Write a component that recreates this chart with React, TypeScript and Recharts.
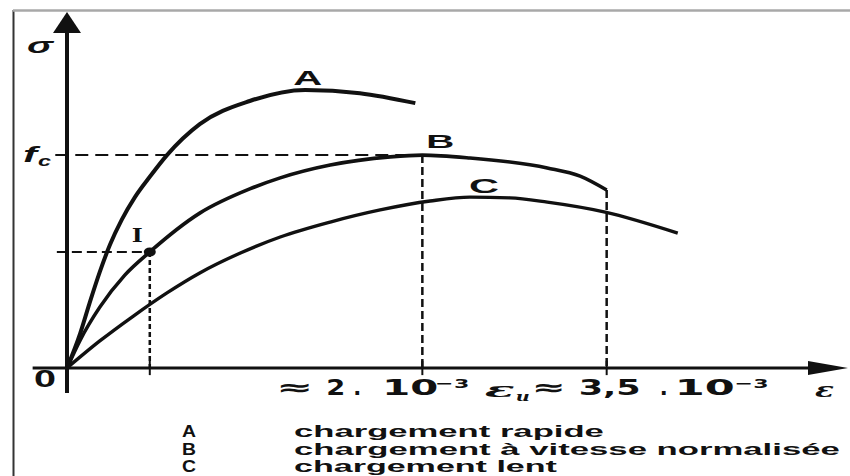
import React, { useLayoutEffect, useRef, useState } from "react";
import { ComposedChart, Line, XAxis, YAxis, ReferenceLine, ReferenceDot } from "recharts";

// schematic units: strain 0–100 along the arrow, stress 0–100 up to the arrow tip
const EPS_A = [0, 1.7, 2.9, 4.2, 5.5, 7.0, 8.7, 10.6, 12.8, 17.0, 23.4, 30.5, 37.5, 44.6];
const SIG_A = [0, 9.8, 18.3, 27.0, 34.6, 41.6, 48.0, 53.7, 59.8, 68.5, 75.0, 78.1, 77.2, 74.4];
const EPS_B = [0, 1.7, 4.2, 7.4, 10.6, 17.0, 23.4, 27.3, 33.7, 41.4, 45.5, 51.6, 61.5, 65.7, 69.1];
const SIG_B = [0, 7.9, 17.1, 26.1, 32.6, 43.5, 50.3, 53.4, 57.0, 59.3, 59.8, 59.0, 56.2, 53.9, 50.0];
const EPS_C = [0, 4.2, 8.5, 12.8, 17.0, 22.2, 27.3, 33.7, 40.1, 46.5, 51.6, 56.7, 61.5, 68.9, 78.2];
const SIG_C = [0, 7.6, 14.6, 21.1, 26.7, 32.3, 36.8, 41.0, 44.4, 46.9, 48.0, 47.8, 46.6, 43.8, 37.9];

const FC = 59.8; // f_c, peak of B
const EPS_PEAK = 45.5; // ≈ 2.10^-3
const EPS_U = 69.1; // ε_u ≈ 3,5.10^-3
const SIG_U = 50.0;
const I_EPS = 10.6;
const I_SIG = 32.6;

const CURVE_KEYS = ["A", "B", "C"];
const CURVE_LABELS = [
  "chargement rapide",
  "chargement à vitesse normalisée",
  "chargement lent",
];
const LEGEND_WIDTHS = [310, 546, 263];
const TICK_PEAK = ["≈", "2", ".", "10", "−3"];
const TICK_U = ["ε", "u", "≈", "3,5", ".", "10", "−3"];

const SANS = "'Liberation Sans', Arial, sans-serif";
const HEAVY = "'DejaVu Sans', sans-serif";
const SERIF = "'DejaVu Serif', serif";
const INK = "#111";

const toPts = (eps: number[], sig: number[]) => eps.map((x, i) => ({ x, y: sig[i] }));
const peakOf = (eps: number[], sig: number[]) => {
  const i = sig.indexOf(Math.max(...sig));
  return { x: eps[i], y: sig[i] };
};

// the scan is stretched sideways, so text is measured and scaled to its width
function WideText({ x, y, w, size, font, italic, children }: any) {
  const ref = useRef<SVGTextElement>(null);
  const [k, setK] = useState(1);
  useLayoutEffect(() => {
    const n = ref.current ? ref.current.getComputedTextLength() : 0;
    if (n > 0) setK(w / n);
  }, [w, children, size, font]);
  return (
    <text
      ref={ref}
      transform={`translate(${x},${y}) scale(${k},1)`}
      fontSize={size}
      fontFamily={font ?? SANS}
      fontStyle={italic ? "italic" : "normal"}
      fontWeight="bold"
      fill={INK}
    >
      {children}
    </text>
  );
}

type Piece = {
  t: string;
  dx: number;
  w: number;
  dy: number;
  size: number;
  font?: string;
  italic?: boolean;
};

// draws text pieces around the anchor point given by the ReferenceDot
const pieces = (list: Piece[]) => (p: any) => (
  <g>
    {list.map((s, i) => (
      <WideText key={i} x={p.cx + s.dx} y={p.cy + s.dy} w={s.w} size={s.size} font={s.font} italic={s.italic}>
        {s.t}
      </WideText>
    ))}
  </g>
);

const seg = (w: number) => ({ stroke: INK, strokeWidth: w, ifOverflow: "visible" as const });

export default function App() {
  const a = toPts(EPS_A, SIG_A);
  const b = toPts(EPS_B, SIG_B);
  const c = toPts(EPS_C, SIG_C);
  const aPeak = peakOf(EPS_A, SIG_A);
  const cPeak = peakOf(EPS_C, SIG_C);

  const tickPeak: Piece[] = [
    { t: TICK_PEAK[0], dx: -146, w: 37, dy: 27, size: 22, font: HEAVY },
    { t: TICK_PEAK[1], dx: -96, w: 19, dy: 27, size: 21, font: HEAVY },
    { t: TICK_PEAK[2], dx: -69, w: 8, dy: 27, size: 21, font: HEAVY },
    { t: TICK_PEAK[3], dx: -40, w: 56, dy: 27, size: 21, font: HEAVY },
    { t: TICK_PEAK[4], dx: 13, w: 34, dy: 20, size: 13, font: HEAVY },
  ];
  const tickU: Piece[] = [
    { t: TICK_U[0], dx: -122, w: 30, dy: 29, size: 20, font: SERIF, italic: true },
    { t: TICK_U[1], dx: -91, w: 14, dy: 33, size: 13, font: SERIF, italic: true },
    { t: TICK_U[2], dx: -75, w: 34, dy: 27, size: 22, font: HEAVY },
    { t: TICK_U[3], dx: -28, w: 62, dy: 27, size: 21, font: HEAVY },
    { t: TICK_U[4], dx: 53, w: 8, dy: 27, size: 21, font: HEAVY },
    { t: TICK_U[5], dx: 68, w: 60, dy: 27, size: 21, font: HEAVY },
    { t: TICK_U[6], dx: 128, w: 34, dy: 20, size: 13, font: HEAVY },
  ];

  return (
    <div style={{ position: "absolute", left: 0, top: 0, width: 850, height: 476, background: "#fff" }}>
      <svg width={850} height={476} style={{ position: "absolute", left: 0, top: 0 }}>
        <line x1={13.5} y1={10} x2={13.5} y2={476} stroke="#333" strokeWidth={2} />
        <line x1={13} y1={10.5} x2={850} y2={10.5} stroke="#a8a8a8" strokeWidth={2.5} />
        {CURVE_KEYS.map((k, i) => (
          <g key={k}>
            <WideText x={182} y={437 + i * 17.5} w={14} size={16}>
              {k}
            </WideText>
            <WideText x={294} y={437 + i * 17.5} w={LEGEND_WIDTHS[i]} size={16}>
              {CURVE_LABELS[i]}
            </WideText>
          </g>
        ))}
      </svg>
      <div style={{ position: "absolute", left: 0, top: 0 }}>
        <ComposedChart width={850} height={476} margin={{ top: 12, right: 2, bottom: 108, left: 67 }}>
          <XAxis type="number" dataKey="x" domain={[0, 100]} hide />
          <YAxis type="number" dataKey="y" domain={[0, 100]} hide />

          {/* axes with arrows */}
          <ReferenceLine segment={[{ x: 0, y: -7 }, { x: 0, y: 94.5 }]} {...seg(4)} />
          <ReferenceLine segment={[{ x: -4.4, y: 0 }, { x: 95, y: 0 }]} {...seg(3)} />
          <ReferenceDot
            x={0}
            y={100}
            ifOverflow="visible"
            shape={(p: any) => (
              <polygon points={`${p.cx},${p.cy} ${p.cx - 14},${p.cy + 21} ${p.cx + 14},${p.cy + 21}`} fill={INK} />
            )}
          />
          <ReferenceDot
            x={100}
            y={0}
            ifOverflow="visible"
            shape={(p: any) => (
              <polygon points={`${p.cx},${p.cy} ${p.cx - 40},${p.cy - 7} ${p.cx - 40},${p.cy + 7}`} fill={INK} />
            )}
          />

          {/* construction lines */}
          <ReferenceLine segment={[{ x: -1.5, y: FC }, { x: EPS_PEAK, y: FC }]} {...seg(2)} strokeDasharray="13 7" />
          <ReferenceLine segment={[{ x: -1.3, y: I_SIG }, { x: I_EPS, y: I_SIG }]} {...seg(2)} strokeDasharray="10 5" />
          <ReferenceLine segment={[{ x: I_EPS, y: I_SIG }, { x: I_EPS, y: 0 }]} {...seg(2.5)} strokeDasharray="5 3" />
          <ReferenceLine segment={[{ x: EPS_PEAK, y: FC }, { x: EPS_PEAK, y: 0 }]} {...seg(2.5)} strokeDasharray="8 4" />
          <ReferenceLine segment={[{ x: EPS_U, y: SIG_U }, { x: EPS_U, y: 0 }]} {...seg(2.5)} strokeDasharray="8 4" />
          {[I_EPS, EPS_PEAK, EPS_U].map((x) => (
            <ReferenceLine key={x} segment={[{ x, y: -2 }, { x, y: 2 }]} {...seg(2)} />
          ))}

          <Line data={a} dataKey="y" type="monotone" stroke={INK} strokeWidth={4} dot={false} isAnimationActive={false} />
          <Line data={b} dataKey="y" type="monotone" stroke={INK} strokeWidth={3.6} dot={false} isAnimationActive={false} />
          <Line data={c} dataKey="y" type="monotone" stroke={INK} strokeWidth={3.4} dot={false} isAnimationActive={false} />

          <ReferenceDot
            x={I_EPS}
            y={I_SIG}
            ifOverflow="visible"
            shape={(p: any) => <ellipse cx={p.cx} cy={p.cy} rx={6} ry={4.5} fill={INK} />}
          />

          {/* labels */}
          <ReferenceDot x={0} y={100} ifOverflow="visible" shape={pieces([{ t: "σ", dx: -40, w: 26, dy: 41, size: 22, italic: true }])} />
          <ReferenceDot
            x={0}
            y={FC}
            ifOverflow="visible"
            shape={pieces([
              { t: "f", dx: -44, w: 14, dy: 7, size: 22, italic: true },
              { t: "c", dx: -29, w: 13, dy: 11, size: 15, italic: true },
            ])}
          />
          <ReferenceDot x={0} y={0} ifOverflow="visible" shape={pieces([{ t: "0", dx: -33, w: 22, dy: 19, size: 23 }])} />
          <ReferenceDot x={100} y={0} ifOverflow="visible" shape={pieces([{ t: "ε", dx: -33, w: 19, dy: 29, size: 20, font: SERIF, italic: true }])} />
          <ReferenceDot x={I_EPS} y={I_SIG} ifOverflow="visible" shape={pieces([{ t: "I", dx: -18, w: 11, dy: -10, size: 18, font: SERIF }])} />
          <ReferenceDot x={aPeak.x} y={aPeak.y} ifOverflow="visible" shape={pieces([{ t: CURVE_KEYS[0], dx: -12, w: 29, dy: -5, size: 21 }])} />
          <ReferenceDot x={EPS_PEAK} y={FC} ifOverflow="visible" shape={pieces([{ t: CURVE_KEYS[1], dx: 4, w: 28, dy: -7, size: 18 }])} />
          <ReferenceDot x={cPeak.x} y={cPeak.y} ifOverflow="visible" shape={pieces([{ t: CURVE_KEYS[2], dx: -1, w: 30, dy: -4, size: 21 }])} />
          <ReferenceDot x={EPS_PEAK} y={0} ifOverflow="visible" shape={pieces(tickPeak)} />
          <ReferenceDot x={EPS_U} y={0} ifOverflow="visible" shape={pieces(tickU)} />
        </ComposedChart>
      </div>
    </div>
  );
}
